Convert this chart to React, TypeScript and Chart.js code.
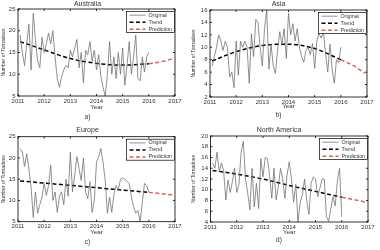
import React, { useEffect, useRef } from "react";
import { Chart, registerables } from "chart.js";

Chart.register(...registerables);

// ---------- data ----------
const START_YEAR = 2011;
const YEAR_MIN = 2011;
const YEAR_MAX = 2017;

const australia = [
  19, 15, 12, 17, 21.5, 11, 24, 18, 13, 11.5, 18.5, 15,
  17, 19.5, 17, 20, 14, 9, 7, 9.5, 11, 12, 11.5, 15.5,
  14, 16, 18, 11.5, 15, 8, 15.5, 14.5, 17.5, 13, 15.5, 11,
  14.5, 9.5, 7, 5, 10, 17.5, 10, 14, 9, 15, 10, 16,
  7.5, 12, 17.5, 10, 14, 19, 9, 8.5, 14, 10.5, 14, 15,
];
const australiaTrendX = [2011.08, 2012, 2013, 2014, 2015, 2016];
const australiaTrend = [17.5, 15.6, 13.6, 12.5, 12.1, 12.4];
const australiaPredX = [2016, 2016.5, 2016.92];
const australiaPred = [12.4, 12.9, 13.6];

const asia = [
  7, 8.5, 10, 12, 11, 9.5, 11, 10, 5.2, 6, 3.5, 11,
  5.5, 11, 10, 11, 10, 4.2, 12.2, 8.5, 14.5, 14, 10, 7,
  13, 16, 6.5, 10.5, 7, 5.8, 9.5, 12.5, 10.5, 13, 8.2, 15.5,
  12, 13.8, 11, 13, 10, 8.5, 7.6, 9.5, 10, 8.8, 10.6, 6.6,
  11, 12.2, 11.5, 12.5, 9, 6, 10.5, 6.5, 4.2, 8, 7.5, 10,
];
const asiaTrendX = [2011.08, 2012, 2013, 2014, 2015, 2016];
const asiaTrend = [7.8, 9.3, 10.3, 10.5, 9.8, 8.0];
const asiaPredX = [2016, 2016.5, 2016.92];
const asiaPred = [8.0, 7.0, 5.8];

const europe = [
  22.2, 21.4, 18, 21, 17.5, 13, 6, 12, 7, 9, 10.8, 14,
  11.2, 13.5, 18.3, 10, 12, 7.2, 11, 12, 9, 15, 11, 21.4,
  12, 16, 20.3, 17.5, 14.7, 20, 12, 10.4, 14.4, 7.2, 10, 19,
  20.3, 22.2, 19, 14.7, 7, 10.8, 7.2, 11.5, 13.5, 12.5, 15, 15.3,
  15, 14.5, 14, 10.8, 8.5, 7, 7.7, 5, 9.5, 14, 13.5, 12,
];
const europeTrendX = [2011.08, 2016];
const europeTrend = [14.6, 11.9];
const europePredX = [2016, 2016.92];
const europePred = [11.9, 11.3];

const northAmerica = [
  14.9, 14, 17, 13.4, 15, 13.5, 8.1, 11.8, 9.5, 11.5, 14, 9.5,
  11, 17, 19, 12, 9.4, 6.3, 14, 6.8, 11.2, 6.5, 15.8, 12.4,
  16, 15.8, 12.8, 8.4, 14, 8.1, 10.6, 14, 12, 8.4, 12.8, 15.2,
  12, 7.7, 11, 4, 7.7, 9, 12, 8, 5.4, 11.2, 12.4, 12,
  8.7, 10.3, 12, 12, 5, 4.1, 6.5, 8.7, 7, 11.7, 14, 5,
];
const northAmericaTrendX = [2011.08, 2012, 2013, 2014, 2015, 2016];
const northAmericaTrend = [13.6, 12.9, 12.0, 10.8, 9.7, 8.6];
const northAmericaPredX = [2016, 2016.92];
const northAmericaPred = [8.6, 7.7];

const TITLES = ["Australia", "Asia", "Europe", "North America"];
const SUBLABELS = ["a)", "b)", "c)", "d)"];
const LEGEND_LABELS = ["Original", "Trend", "Prediction"];
const Y_TITLE = "Number of Tornadoes";
const X_TITLE = "Year";

const SERIES = [australia, asia, europe, northAmerica];
const TREND_X = [australiaTrendX, asiaTrendX, europeTrendX, northAmericaTrendX];
const TREND_Y = [australiaTrend, asiaTrend, europeTrend, northAmericaTrend];
const PRED_X = [australiaPredX, asiaPredX, europePredX, northAmericaPredX];
const PRED_Y = [australiaPred, asiaPred, europePred, northAmericaPred];
const Y_RANGES = [
  [5, 25, 5],
  [2, 16, 2],
  [5, 25, 5],
  [4, 20, 2],
];

// ---------- layout (not data) ----------
const W = 190;
const H = 125;
const LAYOUT = [
  { left: 0, top: 0, pL: 18, pR: 175, pT: 9, pB: 96, titleY: 4.5, xTitleY: 107, subY: 117 },
  { left: 190, top: 0, pL: 20, pR: 177, pT: 10, pB: 97, titleY: 4.5, xTitleY: 106.7, subY: 115 },
  { left: 0, top: 125, pL: 18, pR: 175, pT: 11.7, pB: 96.7, titleY: 5.3, xTitleY: 107.3, subY: 117.3 },
  { left: 190, top: 125, pL: 20.5, pR: 178, pT: 11, pB: 97, titleY: 5.3, xTitleY: 107.3, subY: 115 },
];

const FONT = "'Liberation Sans', Arial, sans-serif";
const TEXT_COLOR = "#333";
const ORIG_COLOR = "#737373";
const TREND_COLOR = "#000000";
const PRED_COLOR = "#e0605e";

const framePlugin = {
  id: "frame",
  afterDatasetsDraw(chart: any) {
    const { ctx, chartArea: a, scales } = chart;
    const x = scales.x;
    const y = scales.y;
    ctx.save();
    ctx.strokeStyle = "#000";
    ctx.lineWidth = 0.8;
    ctx.strokeRect(a.left, a.top, a.right - a.left, a.bottom - a.top);
    const L = 2;
    ctx.beginPath();
    x.ticks.forEach((t: any) => {
      const px = x.getPixelForValue(t.value);
      ctx.moveTo(px, a.bottom);
      ctx.lineTo(px, a.bottom - L);
      ctx.moveTo(px, a.top);
      ctx.lineTo(px, a.top + L);
    });
    y.ticks.forEach((t: any) => {
      const py = y.getPixelForValue(t.value);
      ctx.moveTo(a.left, py);
      ctx.lineTo(a.left + L, py);
      ctx.moveTo(a.right, py);
      ctx.lineTo(a.right - L, py);
    });
    ctx.stroke();

    // legend box
    const bw = 48;
    const bh = 21;
    const bx = a.right - bw - 0.5;
    const by = a.top + 2.5;
    ctx.fillStyle = "#fff";
    ctx.fillRect(bx, by, bw, bh);
    ctx.lineWidth = 0.7;
    ctx.strokeRect(bx, by, bw, bh);
    const ds = chart.data.datasets;
    ctx.font = `5.3px ${FONT}`;
    ctx.textBaseline = "middle";
    ctx.textAlign = "left";
    for (let i = 0; i < 3; i++) {
      const ry = by + 3.7 + i * 7;
      ctx.beginPath();
      ctx.strokeStyle = ds[i].borderColor;
      ctx.lineWidth = ds[i].borderWidth;
      ctx.setLineDash(ds[i].borderDash || []);
      ctx.moveTo(bx + 3, ry);
      ctx.lineTo(bx + 19, ry);
      ctx.stroke();
      ctx.setLineDash([]);
      ctx.fillStyle = TEXT_COLOR;
      ctx.fillText(LEGEND_LABELS[i], bx + 22, ry);
    }
    ctx.restore();
  },
};

function Panel({ idx }: { idx: number }) {
  const ref = useRef<HTMLCanvasElement | null>(null);
  useEffect(() => {
    if (!ref.current) return;
    const lay = LAYOUT[idx];
    const [yMin, yMax, yStep] = Y_RANGES[idx];
    const titleLH = 7 * 1.2;
    const subLH = 6.5 * 1.2;
    const xTitleLH = 6.2 * 1.2;
    const subTop = lay.subY - subLH / 2;
    const xAxisH = subTop - lay.pB;
    const original = SERIES[idx].map((v, i) => ({ x: START_YEAR + (i + 1) / 12, y: v }));
    const trend = TREND_Y[idx].map((v, i) => ({ x: TREND_X[idx][i], y: v }));
    const pred = PRED_Y[idx].map((v, i) => ({ x: PRED_X[idx][i], y: v }));

    const chart = new Chart(ref.current, {
      type: "line",
      data: {
        datasets: [
          {
            label: LEGEND_LABELS[0],
            data: original,
            borderColor: ORIG_COLOR,
            borderWidth: 0.8,
            pointRadius: 0,
            tension: 0,
          },
          {
            label: LEGEND_LABELS[1],
            data: trend,
            borderColor: TREND_COLOR,
            borderWidth: 1.5,
            borderDash: [4, 2.5],
            pointRadius: 0,
            cubicInterpolationMode: "monotone",
          },
          {
            label: LEGEND_LABELS[2],
            data: pred,
            borderColor: PRED_COLOR,
            borderWidth: 1.5,
            borderDash: [4, 2.5],
            pointRadius: 0,
            cubicInterpolationMode: "monotone",
          },
        ],
      },
      options: {
        responsive: false,
        animation: false,
        events: [],
        layout: { padding: { left: 0, right: W - lay.pR, top: 0, bottom: 0 } },
        font: { family: FONT },
        scales: {
          x: {
            type: "linear",
            min: YEAR_MIN,
            max: YEAR_MAX,
            grid: { display: false, drawTicks: false },
            border: { display: false },
            ticks: {
              stepSize: 1,
              autoSkip: false,
              maxRotation: 0,
              padding: 1.5,
              color: TEXT_COLOR,
              font: { size: 6, family: FONT },
              callback: (v: any) => String(v),
            },
            title: {
              display: true,
              text: X_TITLE,
              color: TEXT_COLOR,
              font: { size: 6.2, family: FONT },
              padding: { top: 0, bottom: Math.max(0, subTop - lay.xTitleY - xTitleLH / 2) },
            },
            afterFit: (s: any) => {
              s.height = xAxisH;
            },
          },
          y: {
            min: yMin,
            max: yMax,
            grid: { display: false, drawTicks: false },
            border: { display: false },
            ticks: {
              stepSize: yStep,
              autoSkip: false,
              padding: 2.5,
              color: TEXT_COLOR,
              font: { size: 6, family: FONT },
            },
            title: {
              display: true,
              text: Y_TITLE,
              color: TEXT_COLOR,
              font: { size: 5, family: FONT },
              padding: { top: 1, bottom: 0 },
            },
            afterFit: (s: any) => {
              s.width = lay.pL;
            },
          },
        },
        plugins: {
          legend: { display: false },
          tooltip: { enabled: false },
          title: {
            display: true,
            text: TITLES[idx],
            color: TEXT_COLOR,
            font: { size: 7, weight: "normal", family: FONT },
            padding: {
              top: Math.max(0, lay.titleY - titleLH / 2),
              bottom: Math.max(0, lay.pT - lay.titleY - titleLH / 2),
            },
          },
          subtitle: {
            display: true,
            position: "bottom",
            text: SUBLABELS[idx],
            color: TEXT_COLOR,
            font: { size: 6.5, family: FONT },
            padding: { top: 0, bottom: Math.max(0, H - lay.subY - subLH / 2) },
          },
        },
      },
      plugins: [framePlugin],
    } as any);
    return () => chart.destroy();
  }, [idx]);

  const lay = LAYOUT[idx];
  return (
    <div style={{ position: "absolute", left: lay.left, top: lay.top, width: W, height: H }}>
      <canvas ref={ref} width={W} height={H} style={{ width: W, height: H, display: "block" }} />
    </div>
  );
}

export default function App() {
  return (
    <div style={{ position: "absolute", left: 0, top: 0, width: 380, height: 250, background: "#fff" }}>
      {[0, 1, 2, 3].map((i) => (
        <Panel key={i} idx={i} />
      ))}
    </div>
  );
}
